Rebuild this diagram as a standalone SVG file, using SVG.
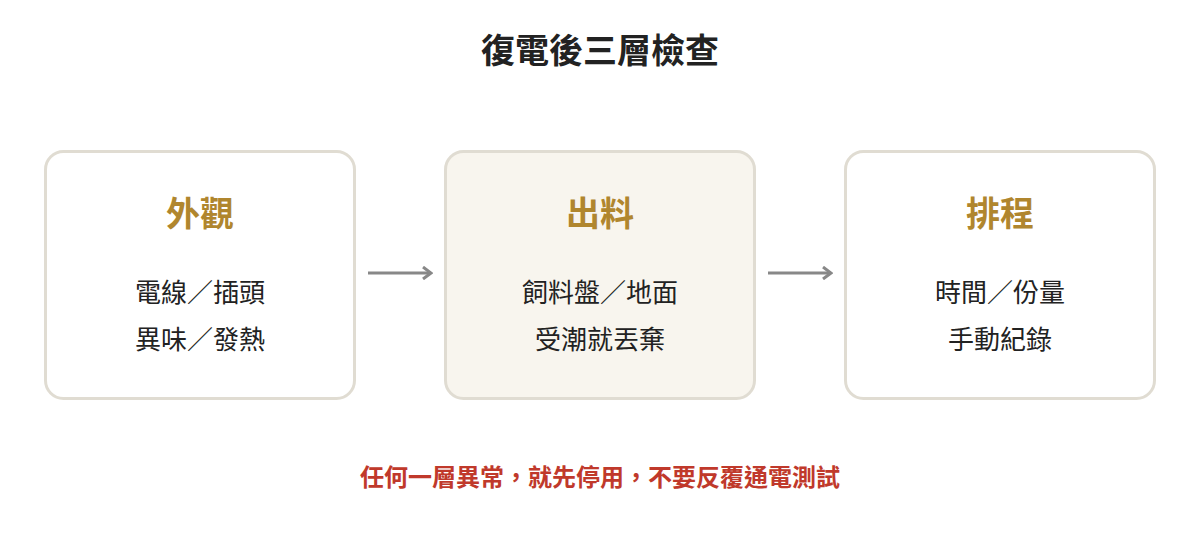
<svg xmlns="http://www.w3.org/2000/svg" width="1200" height="560" viewBox="0 0 1200 560">
<style>
text{font-family:"Noto Sans CJK TC","Noto Sans CJK SC",sans-serif;text-anchor:middle}
.box{fill:#fff;stroke:#e0dcd2;stroke-width:3}
.hl{fill:#f8f5ee}
.h{font-size:34px;font-weight:700;fill:#b0862e}
.b{font-size:26px;fill:#222}
.c{stroke:#888;stroke-width:3;fill:none}
</style>
<defs><marker id="a" viewBox="0 0 14 14" refX="12" refY="7" markerWidth="14" markerHeight="14" orient="auto" markerUnits="userSpaceOnUse"><path d="M4,1 L12,7 L4,13" fill="none" stroke="#888" stroke-width="3"/></marker></defs>
<rect width="1200" height="560" fill="#fff"/>
<text x="600" y="63" font-size="34" font-weight="700" fill="#222">復電後三層檢查</text>
<g id="n1"><rect class="box" x="45.5" y="151.5" width="309" height="247" rx="18"/><text class="h" x="200" y="226">外觀</text><text class="b" x="200" y="302">電線／插頭</text><text class="b" x="200" y="349">異味／發熱</text></g>
<g id="n2"><rect class="box hl" x="445.5" y="151.5" width="309" height="247" rx="18"/><text class="h" x="600" y="226">出料</text><text class="b" x="600" y="302">飼料盤／地面</text><text class="b" x="600" y="349">受潮就丟棄</text></g>
<g id="n3"><rect class="box" x="845.5" y="151.5" width="309" height="247" rx="18"/><text class="h" x="1000" y="226">排程</text><text class="b" x="1000" y="302">時間／份量</text><text class="b" x="1000" y="349">手動紀錄</text></g>
<g id="connectors">
<path class="c" d="M368,273 H431" marker-end="url(#a)"/>
<path class="c" d="M768,273 H831" marker-end="url(#a)"/>
</g>
<text x="600" y="486" font-size="24" font-weight="700" fill="#c0392b">任何一層異常，就先停用，不要反覆通電測試</text>
</svg>
